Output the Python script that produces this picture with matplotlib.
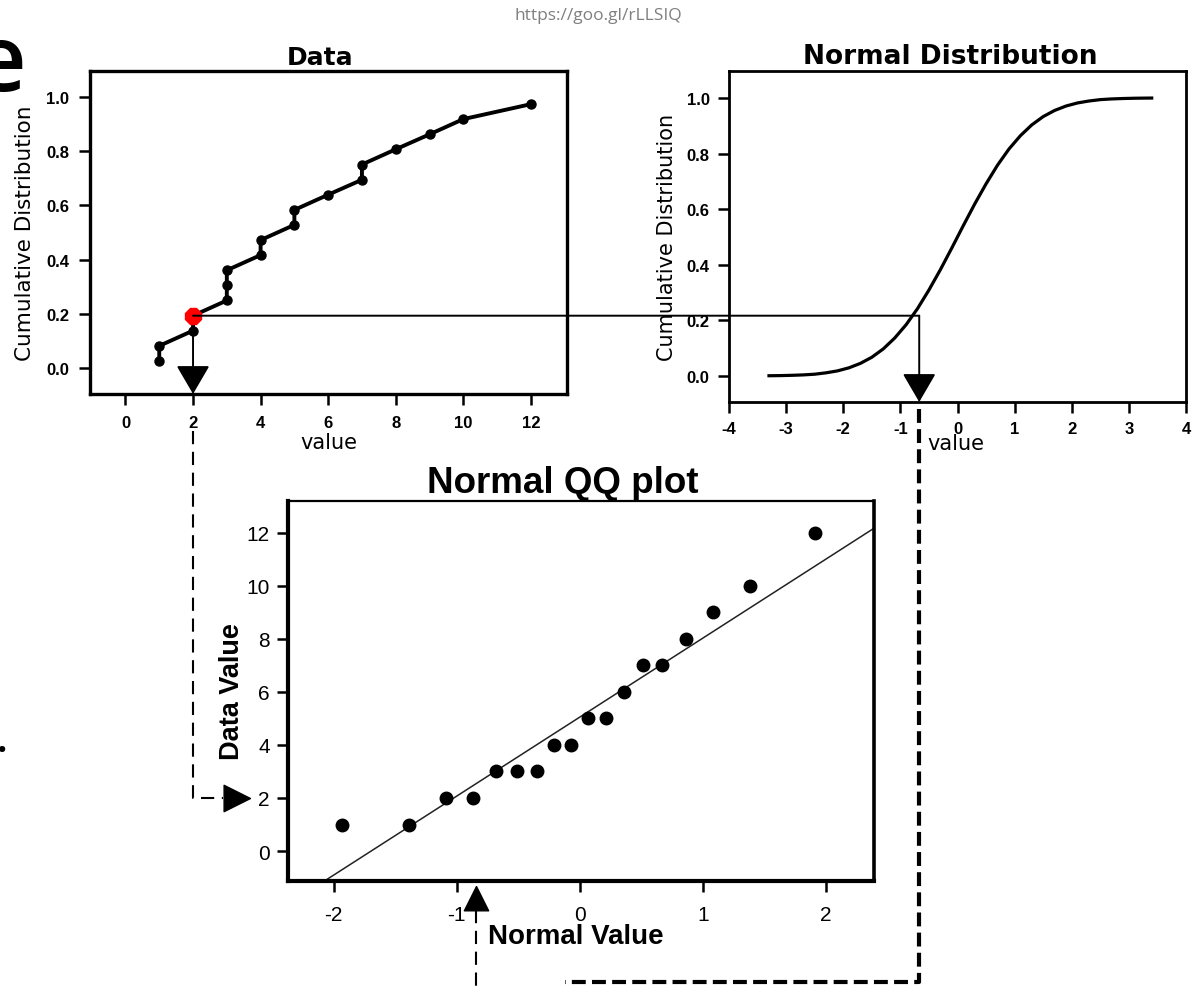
import matplotlib
matplotlib.use("Agg")
import matplotlib.pyplot as plt
from matplotlib.lines import Line2D
from matplotlib.patches import ConnectionPatch

plt.rcParams["lines.scale_dashes"] = False
plt.rcParams["font.family"] = ["DejaVu Sans"]

# ---------------- data ----------------
data_values = [1, 1, 2, 2, 3, 3, 3, 4, 4, 5, 5, 6, 7, 7, 8, 9, 10, 12]
data_cdf = [0.028, 0.083, 0.139, 0.194, 0.250, 0.306, 0.361, 0.417, 0.472,
            0.528, 0.583, 0.639, 0.694, 0.750, 0.806, 0.861, 0.917, 0.972]
highlight_index = 3

normal_x = [-3.3, -3.1, -2.9, -2.7, -2.5, -2.3, -2.1, -1.9, -1.7, -1.5, -1.3,
            -1.1, -0.9, -0.7, -0.5, -0.3, -0.1, 0.1, 0.3, 0.5, 0.7, 0.9, 1.1,
            1.3, 1.5, 1.7, 1.9, 2.1, 2.3, 2.5, 2.7, 2.9, 3.1, 3.3, 3.4]
normal_cdf = [0.0005, 0.001, 0.002, 0.0035, 0.006, 0.011, 0.018, 0.029, 0.045,
              0.067, 0.097, 0.136, 0.184, 0.242, 0.309, 0.382, 0.460, 0.540,
              0.618, 0.691, 0.758, 0.816, 0.864, 0.903, 0.933, 0.955, 0.971,
              0.982, 0.989, 0.994, 0.9965, 0.998, 0.999, 0.9995, 0.9997]
normal_marked_x = -0.67

qq_normal = [-1.93, -1.39, -1.09, -0.87, -0.68, -0.51, -0.35, -0.21, -0.07,
             0.07, 0.21, 0.36, 0.51, 0.67, 0.86, 1.08, 1.38, 1.91]
qq_data = [1, 1, 2, 2, 3, 3, 3, 4, 4, 5, 5, 6, 7, 7, 8, 9, 10, 12]
fit_intercept = 5.05
fit_slope = 2.98
qq_marked_x = -0.84
qq_marked_y = 2

data_xticks = [0, 2, 4, 6, 8, 10, 12]
cdf_yticks = [0.0, 0.2, 0.4, 0.6, 0.8, 1.0]
normal_xticks = [-4, -3, -2, -1, 0, 1, 2, 3, 4]
qq_xticks = [-2, -1, 0, 1, 2]
qq_yticks = [0, 2, 4, 6, 8, 10, 12]

# ---------------- figure ----------------
W, H = 1197, 987
fig = plt.figure(figsize=(W / 100, H / 100), dpi=100)


def box(l, t, r, b):
    return [l / W, 1 - b / H, (r - l) / W, (b - t) / H]


ax1 = fig.add_axes(box(90, 72, 567, 395))
ax2 = fig.add_axes(box(729, 72, 1186, 403))
ax3 = fig.add_axes(box(288, 502, 874, 882))

small_bold = dict(family="Liberation Sans", weight="bold", size=12)

# ---- Data panel ----
ax1.plot(data_values, data_cdf, color="black", lw=2.8, marker="o", ms=6.5, zorder=3)
ax1.plot([data_values[highlight_index]], [data_cdf[highlight_index]], marker="8",
         ms=13, color="red", mec="red", zorder=5)
ax1.set_xlim(-1.05, 13.07)
ax1.set_ylim(-0.094, 1.094)
ax1.set_xticks(data_xticks)
ax1.set_xticklabels([str(v) for v in data_xticks], **small_bold)
ax1.set_yticks(cdf_yticks)
ax1.set_yticklabels(["%.1f" % v for v in cdf_yticks], **small_bold)
ax1.tick_params(direction="out", length=8, width=1.8, pad=7)
for s in ax1.spines.values():
    s.set_linewidth(2.4)
ax1.text(0.482, 1.022, "Data", transform=ax1.transAxes, ha="center", va="baseline",
         fontsize=18, fontweight="bold")
ax1.set_ylabel("Cumulative Distribution", fontsize=15.5)
ax1.yaxis.set_label_coords(-0.136, 0.5)
ax1.yaxis.label.set_va("center")
ax1.set_xlabel("value", fontsize=15)
ax1.xaxis.set_label_coords(0.5, -0.149)
ax1.xaxis.label.set_va("center")

# ---- Normal panel ----
ax2.plot(normal_x, normal_cdf, color="black", lw=2.3)
ax2.set_xlim(-4, 4)
ax2.set_ylim(-0.094, 1.097)
ax2.set_xticks(normal_xticks)
ax2.set_xticklabels([str(v) for v in normal_xticks], **small_bold)
ax2.set_yticks(cdf_yticks)
ax2.set_yticklabels(["%.1f" % v for v in cdf_yticks], **small_bold)
ax2.tick_params(direction="out", length=8, width=1.8, pad=6)
for s in ax2.spines.values():
    s.set_linewidth(2.0)
ax2.text(0.484, 1.024, "Normal Distribution", transform=ax2.transAxes, ha="center",
         va="baseline", fontsize=19, fontweight="bold")
ax2.set_ylabel("Cumulative Distribution", fontsize=15)
ax2.yaxis.set_label_coords(-0.136, 0.5)
ax2.yaxis.label.set_va("center")
ax2.set_xlabel("value", fontsize=15)
ax2.xaxis.set_label_coords(0.497, -0.125)
ax2.xaxis.label.set_va("center")

# ---- QQ panel ----
ax3.plot(qq_normal, qq_data, linestyle="none", marker="o", ms=9, color="black", zorder=3)
ax3.axline((0, fit_intercept), slope=fit_slope, color="#222222", lw=1.1)
ax3.set_xlim(-2.37, 2.39)
ax3.set_ylim(-1.13, 13.2)
ax3.set_xticks(qq_xticks)
ax3.set_xticklabels([str(v) for v in qq_xticks], family="Liberation Sans", fontsize=15)
ax3.set_yticks(qq_yticks)
ax3.set_yticklabels([str(v) for v in qq_yticks], family="Liberation Sans", fontsize=15)
ax3.tick_params(axis="x", direction="out", length=8, width=1.8, pad=9)
ax3.tick_params(axis="y", direction="out", length=8, width=1.8, pad=5)
ax3.spines["left"].set_linewidth(3.0)
ax3.spines["bottom"].set_linewidth(3.0)
ax3.spines["right"].set_linewidth(2.6)
ax3.spines["top"].set_linewidth(1.6)
ax3.text(0.469, 1.024, "Normal QQ plot", transform=ax3.transAxes, ha="center",
         va="baseline", fontsize=26.5, fontweight="bold", family="Liberation Sans")
ax3.set_ylabel("Data Value", fontsize=19.5, fontweight="bold", family="Liberation Sans")
ax3.yaxis.set_label_coords(-0.096, 0.5)
ax3.yaxis.label.set_va("center")
ax3.set_xlabel("Normal Value", fontsize=20, fontweight="bold", family="Liberation Sans")
ax3.xaxis.set_label_coords(0.341, -0.145)
ax3.xaxis.label.set_va("center")
ax3.xaxis.label.set_ha("left")

# ---------------- connecting guide lines ----------------
inv = fig.transFigure.inverted()


def to_fig(pt):
    return inv.transform(pt)


hx, hy = data_values[highlight_index], data_cdf[highlight_index]
p_red = ax1.transData.transform((hx, hy))
y_on_ax2 = ax2.transData.inverted().transform(p_red)[1]

con = ConnectionPatch(xyA=(hx, hy), coordsA=ax1.transData,
                      xyB=(normal_marked_x, y_on_ax2), coordsB=ax2.transData,
                      color="black", lw=1.4, zorder=2)
fig.add_artist(con)

arrow_style = "-|>,head_length=18,head_width=10.5"
ax1.annotate("", xy=(hx, ax1.get_ylim()[0]), xytext=(hx, hy),
             arrowprops=dict(arrowstyle=arrow_style, mutation_scale=1, color="black",
                             lw=1.4, shrinkA=0, shrinkB=0),
             annotation_clip=False)
ax2.annotate("", xy=(normal_marked_x, ax2.get_ylim()[0]), xytext=(normal_marked_x, y_on_ax2),
             arrowprops=dict(arrowstyle=arrow_style, mutation_scale=1, color="black",
                             lw=1.4, shrinkA=0, shrinkB=0),
             annotation_clip=False)

# thin dashed path: Data x -> QQ y axis
x_data = ax1.transData.transform((hx, 0))[0]
y_start = ax1.transAxes.transform((0, -0.115))[1]
y_turn = ax3.transData.transform((0, qq_marked_y))[1]
x_base = ax3.transAxes.transform((-0.111, 0))[0]
x_tip = ax3.transAxes.transform((-0.065, 0))[0]
pts = [to_fig((x_data, y_start)), to_fig((x_data, y_turn)), to_fig((x_base, y_turn))]
fig.add_artist(Line2D([p[0] for p in pts], [p[1] for p in pts], transform=fig.transFigure,
                      color="black", lw=1.5, dashes=(9.5, 5.5)))
right_tri = [(0, 0), (-1, 0.5), (-1, -0.5), (0, 0)]
tip = to_fig((x_tip, y_turn))
fig.add_artist(Line2D([tip[0]], [tip[1]], transform=fig.transFigure, marker=right_tri,
                      ms=38, color="black", linestyle="none"))

# thick dashed path: Normal x -> bottom
x_norm = ax2.transData.transform((normal_marked_x, 0))[0]
y_n0 = ax2.transAxes.transform((0, -0.02))[1]
y_bottom = 987 - 983
x_left = ax3.transAxes.transform((0.473, 0))[0]
pts = [to_fig((x_norm, y_n0)), to_fig((x_norm, y_bottom)), to_fig((x_left, y_bottom))]
fig.add_artist(Line2D([p[0] for p in pts], [p[1] for p in pts], transform=fig.transFigure,
                      color="black", lw=3.0, dashes=(10, 4.5)))

# up arrow on QQ x axis + thin dashed below
x_qq = ax3.transData.transform((qq_marked_x, 0))[0]
y_qq_tip = ax3.transAxes.transform((0, -0.013))[1]
up_tri = [(0, 0), (-0.5, -1), (0.5, -1), (0, 0)]
tip = to_fig((x_qq, y_qq_tip))
fig.add_artist(Line2D([tip[0]], [tip[1]], transform=fig.transFigure, marker=up_tri,
                      ms=35, color="black", linestyle="none"))
y_base = y_qq_tip - 24
pts = [to_fig((x_qq, y_base)), to_fig((x_qq, -10))]
fig.add_artist(Line2D([p[0] for p in pts], [p[1] for p in pts], transform=fig.transFigure,
                      color="black", lw=1.5, dashes=(9.5, 5.5)))

# ---------------- slide text ----------------
fig.text(598 / W, 1 - 20 / H, "https://goo.gl/rLLSIQ", ha="center", va="baseline",
         color="#7f7f7f", fontsize=12.5, family="Open Sans")
fig.text(26 / W, 1 - 91 / H, "e", ha="right", va="baseline", fontsize=66,
         family="Open Sans", fontweight="semibold", color="black")
fig.text(2 / W, 1 - 752 / H, ".", ha="center", va="baseline", fontsize=26,
         family="Open Sans", fontweight="bold", color="black")

fig.savefig("out.png", dpi=100)
